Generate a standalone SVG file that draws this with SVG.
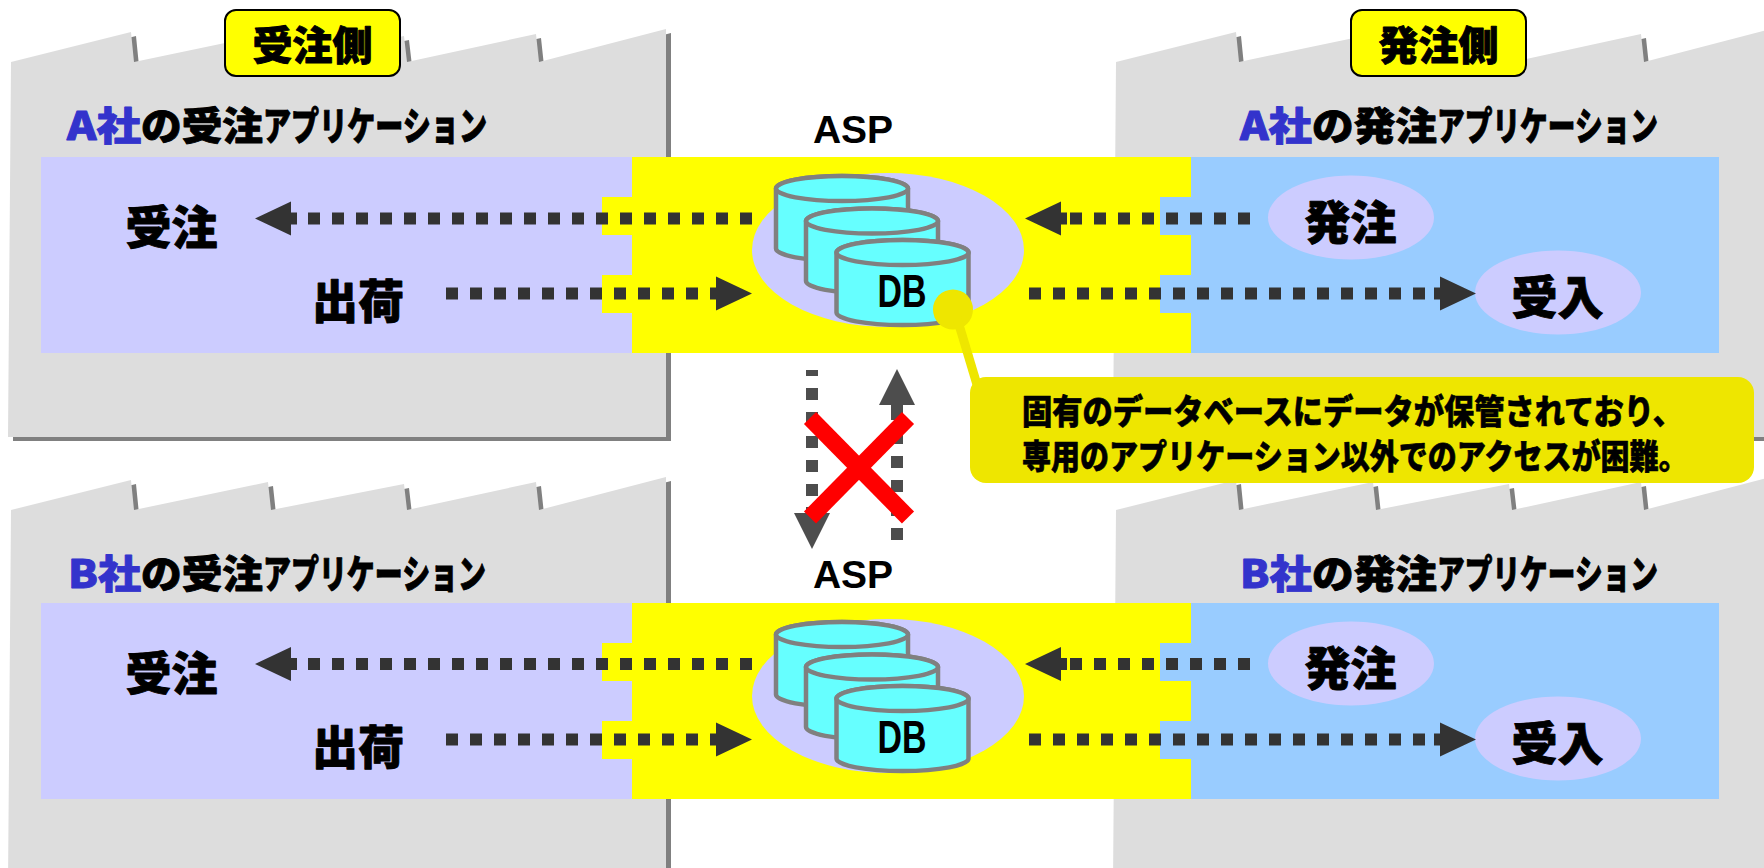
<svg xmlns="http://www.w3.org/2000/svg" xmlns:xlink="http://www.w3.org/1999/xlink" width="1764" height="868" viewBox="0 0 1764 868">
  <style>
    .jp { font-family: "Noto Sans CJK JP", sans-serif; font-weight: 900; fill: #000; stroke: #000; stroke-width: 0.9; stroke-linejoin: round; }
    .en { font-family: "Liberation Sans", Arial, sans-serif; font-weight: bold; fill: #000; }
    .co { fill: #3333CC; stroke: #3333CC; }
    .title { font-size: 39px; }
    .side { font-size: 40px; text-anchor: middle; }
    .item { font-size: 46px; text-anchor: middle; }
    .note { font-size: 34px; stroke-width: 0.6; }
    .asp { font-size: 39px; text-anchor: middle; }
    .db { font-size: 47px; text-anchor: middle; }
    .lilac { fill: #CCCCFF; }
    .yellow { fill: #FFFF00; }
    .blue { fill: #99CCFF; }
    .cyl { fill: #66FFFF; stroke: #808080; stroke-width: 4.5; }
    .flow { fill: none; stroke: #333333; stroke-width: 12; stroke-dasharray: 12 12; marker-end: url(#head); }
    .vflow { fill: none; stroke: #4D4D4D; stroke-width: 12; stroke-dasharray: 12 12; marker-end: url(#vhead); }
    .callout { fill: #EEE600; }
  </style>
  <defs>
    <!-- sawtooth factory building with its offset shadow -->
    <g id="factory">
      <path transform="translate(5,4)" fill="#808080" d="M8,437 L11,62 L131,32 L134,62 L268,34 L271,62 L404,36 L407,62 L536,34 L539,62 L666,29 L666,437 Z"/>
      <path fill="#DDDDDD" d="M8,437 L11,62 L131,32 L134,62 L268,34 L271,62 L404,36 L407,62 L536,34 L539,62 L666,29 L666,437 Z"/>
    </g>
    <!-- database cylinder, top ellipse centred at (0,0) -->
    <g id="cyl">
      <path class="cyl" d="M-66,0 V60 A66,12.5 0 0 0 66,60 V0 A66,12.5 0 0 0 -66,0 Z"/>
      <ellipse class="cyl" cx="0" cy="0" rx="66" ry="12.5"/>
    </g>
    <marker id="head" markerUnits="userSpaceOnUse" viewBox="0 0 42 36" markerWidth="42" markerHeight="36" refX="0" refY="18" orient="auto">
      <path fill="#333333" d="M0,12 H6 V1 L42,18 L6,35 V24 H0 Z"/>
    </marker>
    <marker id="vhead" markerUnits="userSpaceOnUse" viewBox="0 0 42 36" markerWidth="42" markerHeight="36" refX="0" refY="18" orient="auto">
      <path fill="#4D4D4D" d="M0,12 H6 V0 L42,18 L6,36 V24 H0 Z"/>
    </marker>
  </defs>

  <!-- factory buildings -->
  <g id="buildings">
    <use xlink:href="#factory"/>
    <use xlink:href="#factory" transform="translate(1105,0)"/>
    <use xlink:href="#factory" transform="translate(0,448)"/>
    <use xlink:href="#factory" transform="translate(1105,448)"/>
  </g>

  <!-- side tags -->
  <g id="tag-receive">
    <rect x="225" y="10" width="175" height="66" rx="11" fill="#FFFF00" stroke="#000" stroke-width="2"/>
    <text class="jp side" x="312.5" y="60">受注側</text>
  </g>
  <g id="tag-order">
    <rect x="1351" y="10" width="175" height="66" rx="11" fill="#FFFF00" stroke="#000" stroke-width="2"/>
    <text class="jp side" x="1438.5" y="60">発注側</text>
  </g>

  <!-- application titles -->
  <g id="title-a-receive">
    <text class="jp title" x="67" y="140"><tspan class="co" textLength="74" lengthAdjust="spacingAndGlyphs">A社</tspan><tspan textLength="122" lengthAdjust="spacingAndGlyphs">の受注</tspan><tspan textLength="224" lengthAdjust="spacingAndGlyphs">アプリケーション</tspan></text>
  </g>
  <g id="title-a-order">
    <text class="jp title" x="1240" y="140"><tspan class="co" textLength="72" lengthAdjust="spacingAndGlyphs">A社</tspan><tspan textLength="125" lengthAdjust="spacingAndGlyphs">の発注</tspan><tspan textLength="221" lengthAdjust="spacingAndGlyphs">アプリケーション</tspan></text>
  </g>
  <g id="title-b-receive">
    <text class="jp title" x="68" y="588"><tspan class="co" textLength="73" lengthAdjust="spacingAndGlyphs">B社</tspan><tspan textLength="122" lengthAdjust="spacingAndGlyphs">の受注</tspan><tspan textLength="223" lengthAdjust="spacingAndGlyphs">アプリケーション</tspan></text>
  </g>
  <g id="title-b-order">
    <text class="jp title" x="1240" y="588"><tspan class="co" textLength="72" lengthAdjust="spacingAndGlyphs">B社</tspan><tspan textLength="125" lengthAdjust="spacingAndGlyphs">の発注</tspan><tspan textLength="221" lengthAdjust="spacingAndGlyphs">アプリケーション</tspan></text>
  </g>

  <!-- application bands: receiving side, ASP, ordering side -->
  <g id="band-a">
    <rect class="lilac" x="41" y="157" width="591" height="196"/>
    <rect class="yellow" x="602" y="197" width="40" height="38"/>
    <rect class="yellow" x="602" y="275" width="40" height="38"/>
    <rect class="yellow" x="632" y="157" width="559" height="196"/>
    <rect class="blue" x="1160" y="197" width="40" height="38"/>
    <rect class="blue" x="1160" y="275" width="40" height="38"/>
    <rect class="blue" x="1191" y="157" width="528" height="196"/>
  </g>
  <g id="band-b">
    <rect class="lilac" x="41" y="603" width="591" height="196"/>
    <rect class="yellow" x="602" y="643" width="40" height="38"/>
    <rect class="yellow" x="602" y="721" width="40" height="38"/>
    <rect class="yellow" x="632" y="603" width="559" height="196"/>
    <rect class="blue" x="1160" y="643" width="40" height="38"/>
    <rect class="blue" x="1160" y="721" width="40" height="38"/>
    <rect class="blue" x="1191" y="603" width="528" height="196"/>
  </g>

  <!-- ASP databases -->
  <g id="asp-a">
    <text class="en asp" x="853" y="143">ASP</text>
    <ellipse class="lilac" cx="888" cy="250" rx="136" ry="77"/>
    <use xlink:href="#cyl" x="842" y="188.5"/>
    <use xlink:href="#cyl" x="872" y="221"/>
    <use xlink:href="#cyl" x="902.5" y="252.5"/>
    <text class="en db" x="902" y="307" textLength="49" lengthAdjust="spacingAndGlyphs">DB</text>
  </g>
  <g id="asp-b">
    <text class="en asp" x="853" y="588">ASP</text>
    <ellipse class="lilac" cx="888" cy="696" rx="136" ry="77"/>
    <use xlink:href="#cyl" x="842" y="634.5"/>
    <use xlink:href="#cyl" x="872" y="667"/>
    <use xlink:href="#cyl" x="902.5" y="698.5"/>
    <text class="en db" x="902" y="753" textLength="49" lengthAdjust="spacingAndGlyphs">DB</text>
  </g>

  <!-- order / receipt nodes -->
  <g id="a-juchu"><text class="jp item" x="171.5" y="244">受注</text></g>
  <g id="a-shukka"><text class="jp item" x="358" y="318">出荷</text></g>
  <g id="a-hatchu">
    <ellipse class="lilac" cx="1351" cy="217.5" rx="83" ry="42"/>
    <text class="jp item" x="1350.5" y="239">発注</text>
  </g>
  <g id="a-ukeire">
    <ellipse class="lilac" cx="1558" cy="292.5" rx="83" ry="42"/>
    <text class="jp item" x="1557.5" y="314">受入</text>
  </g>
  <g id="b-juchu"><text class="jp item" x="171.5" y="690">受注</text></g>
  <g id="b-shukka"><text class="jp item" x="358" y="764">出荷</text></g>
  <g id="b-hatchu">
    <ellipse class="lilac" cx="1351" cy="663.5" rx="83" ry="42"/>
    <text class="jp item" x="1350.5" y="685">発注</text>
  </g>
  <g id="b-ukeire">
    <ellipse class="lilac" cx="1558" cy="738.5" rx="83" ry="42"/>
    <text class="jp item" x="1557.5" y="760">受入</text>
  </g>

  <!-- data flows -->
  <g id="connectors">
    <path class="flow" d="M752,218.5 H297"/>
    <path class="flow" d="M446,293.5 H710"/>
    <path class="flow" d="M1250,218.5 H1067"/>
    <path class="flow" d="M1029,293.5 H1434"/>
    <path class="flow" d="M752,664 H297"/>
    <path class="flow" d="M446,739.5 H710"/>
    <path class="flow" d="M1250,664 H1067"/>
    <path class="flow" d="M1029,739.5 H1434"/>
    <path class="vflow" d="M812,370 V507" stroke-dashoffset="6"/>
    <path class="vflow" d="M897,540 V411"/>
  </g>

  <!-- blocked exchange between the two ASPs -->
  <g id="blocked" stroke="#FF0000" stroke-width="17">
    <line x1="810" y1="418" x2="908" y2="517.5"/>
    <line x1="908" y1="418" x2="810" y2="517.5"/>
  </g>

  <!-- annotation -->
  <g id="note">
    <circle class="callout" cx="953" cy="309.5" r="20"/>
    <line x1="957" y1="318" x2="978" y2="388" stroke="#EEE600" stroke-width="9"/>
    <rect class="callout" x="970" y="377" width="784" height="106" rx="16"/>
    <!-- lines are set condensed to fit the box -->
    <text class="jp note" transform="matrix(0.89,0,0,1,1022,424)">固有のデータベースにデータが保管されており、</text>
    <text class="jp note" transform="matrix(0.854,0,0,1,1022,469)">専用のアプリケーション以外でのアクセスが困難。</text>
  </g>
</svg>
